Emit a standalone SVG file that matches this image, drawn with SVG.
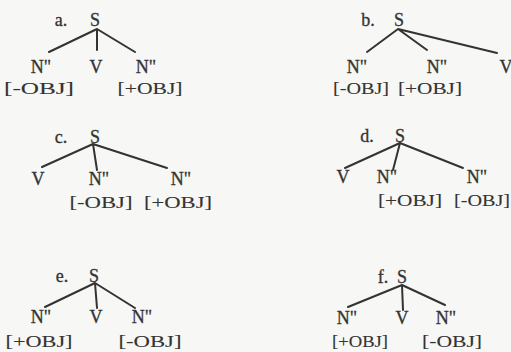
<svg xmlns="http://www.w3.org/2000/svg" width="511" height="352" viewBox="0 0 511 352">
<style>
text{font-family:"Liberation Serif","Times New Roman",serif;font-size:18px;fill:#333;stroke:#333;stroke-width:0.3;text-anchor:middle}
.lb{font-size:17px;stroke-width:0.1}
.ln{stroke:#333;stroke-width:2;stroke-linecap:round;fill:none}
</style>
<rect width="511" height="352" fill="#f7f7f5"/>
<g id="connectors">
<path class="ln" d="M97 29L49 52M97 29L97 50M97 29L135 52"/>
<path class="ln" d="M398 29L367 52M398 29L427 50M398 29L497 53"/>
<path class="ln" d="M93 144L42 167M93 144L97 170M93 144L167 168"/>
<path class="ln" d="M400 143L345 168M400 143L393 170M400 143L463 168"/>
<path class="ln" d="M95 283L45 307M95 283L97 308M95 283L135 308"/>
<path class="ln" d="M402 285L348 307M402 285L403 310M402 285L445 305"/>
</g>
<g id="a-S"><text x="61" y="26">a.</text><text x="95" y="26">S</text></g>
<g id="a-N1"><text x="41" y="73">N"</text><text class="lb" x="39" y="94" textLength="70" lengthAdjust="spacingAndGlyphs">[-OBJ]</text></g>
<g id="a-V"><text x="96" y="73">V</text></g>
<g id="a-N2"><text x="146" y="73">N"</text><text class="lb" x="150" y="94" textLength="65" lengthAdjust="spacingAndGlyphs">[+OBJ]</text></g>
<g id="b-S"><text x="368" y="26">b.</text><text x="399" y="26">S</text></g>
<g id="b-N1"><text x="357" y="73">N"</text><text class="lb" x="361" y="94" textLength="56" lengthAdjust="spacingAndGlyphs">[-OBJ]</text></g>
<g id="b-N2"><text x="437" y="73">N"</text><text class="lb" x="430" y="94" textLength="64" lengthAdjust="spacingAndGlyphs">[+OBJ]</text></g>
<g id="b-V"><text x="506" y="73">V</text></g>
<g id="c-S"><text x="61" y="143">c.</text><text x="95" y="143">S</text></g>
<g id="c-V"><text x="38" y="185">V</text></g>
<g id="c-N1"><text x="99" y="185">N"</text><text class="lb" x="101" y="208" textLength="63" lengthAdjust="spacingAndGlyphs">[-OBJ]</text></g>
<g id="c-N2"><text x="181" y="185">N"</text><text class="lb" x="178" y="208" textLength="68" lengthAdjust="spacingAndGlyphs">[+OBJ]</text></g>
<g id="d-S"><text x="367" y="142">d.</text><text x="400" y="142">S</text></g>
<g id="d-V"><text x="343" y="183">V</text></g>
<g id="d-N1"><text x="387" y="183">N"</text><text class="lb" x="410" y="206" textLength="64" lengthAdjust="spacingAndGlyphs">[+OBJ]</text></g>
<g id="d-N2"><text x="477" y="183">N"</text><text class="lb" x="482" y="206" textLength="56" lengthAdjust="spacingAndGlyphs">[-OBJ]</text></g>
<g id="e-S"><text x="62" y="282">e.</text><text x="94" y="282">S</text></g>
<g id="e-N1"><text x="41" y="323">N"</text><text class="lb" x="39" y="347" textLength="67" lengthAdjust="spacingAndGlyphs">[+OBJ]</text></g>
<g id="e-V"><text x="96" y="323">V</text></g>
<g id="e-N2"><text x="142" y="323">N"</text><text class="lb" x="150" y="347" textLength="63" lengthAdjust="spacingAndGlyphs">[-OBJ]</text></g>
<g id="f-S"><text x="383" y="283">f.</text><text x="402" y="283">S</text></g>
<g id="f-N1"><text x="347" y="324">N"</text><text class="lb" x="360" y="347" textLength="56" lengthAdjust="spacingAndGlyphs">[+OBJ]</text></g>
<g id="f-V"><text x="402" y="324">V</text></g>
<g id="f-N2"><text x="446" y="324">N"</text><text class="lb" x="452" y="347" textLength="60" lengthAdjust="spacingAndGlyphs">[-OBJ]</text></g>
</svg>
